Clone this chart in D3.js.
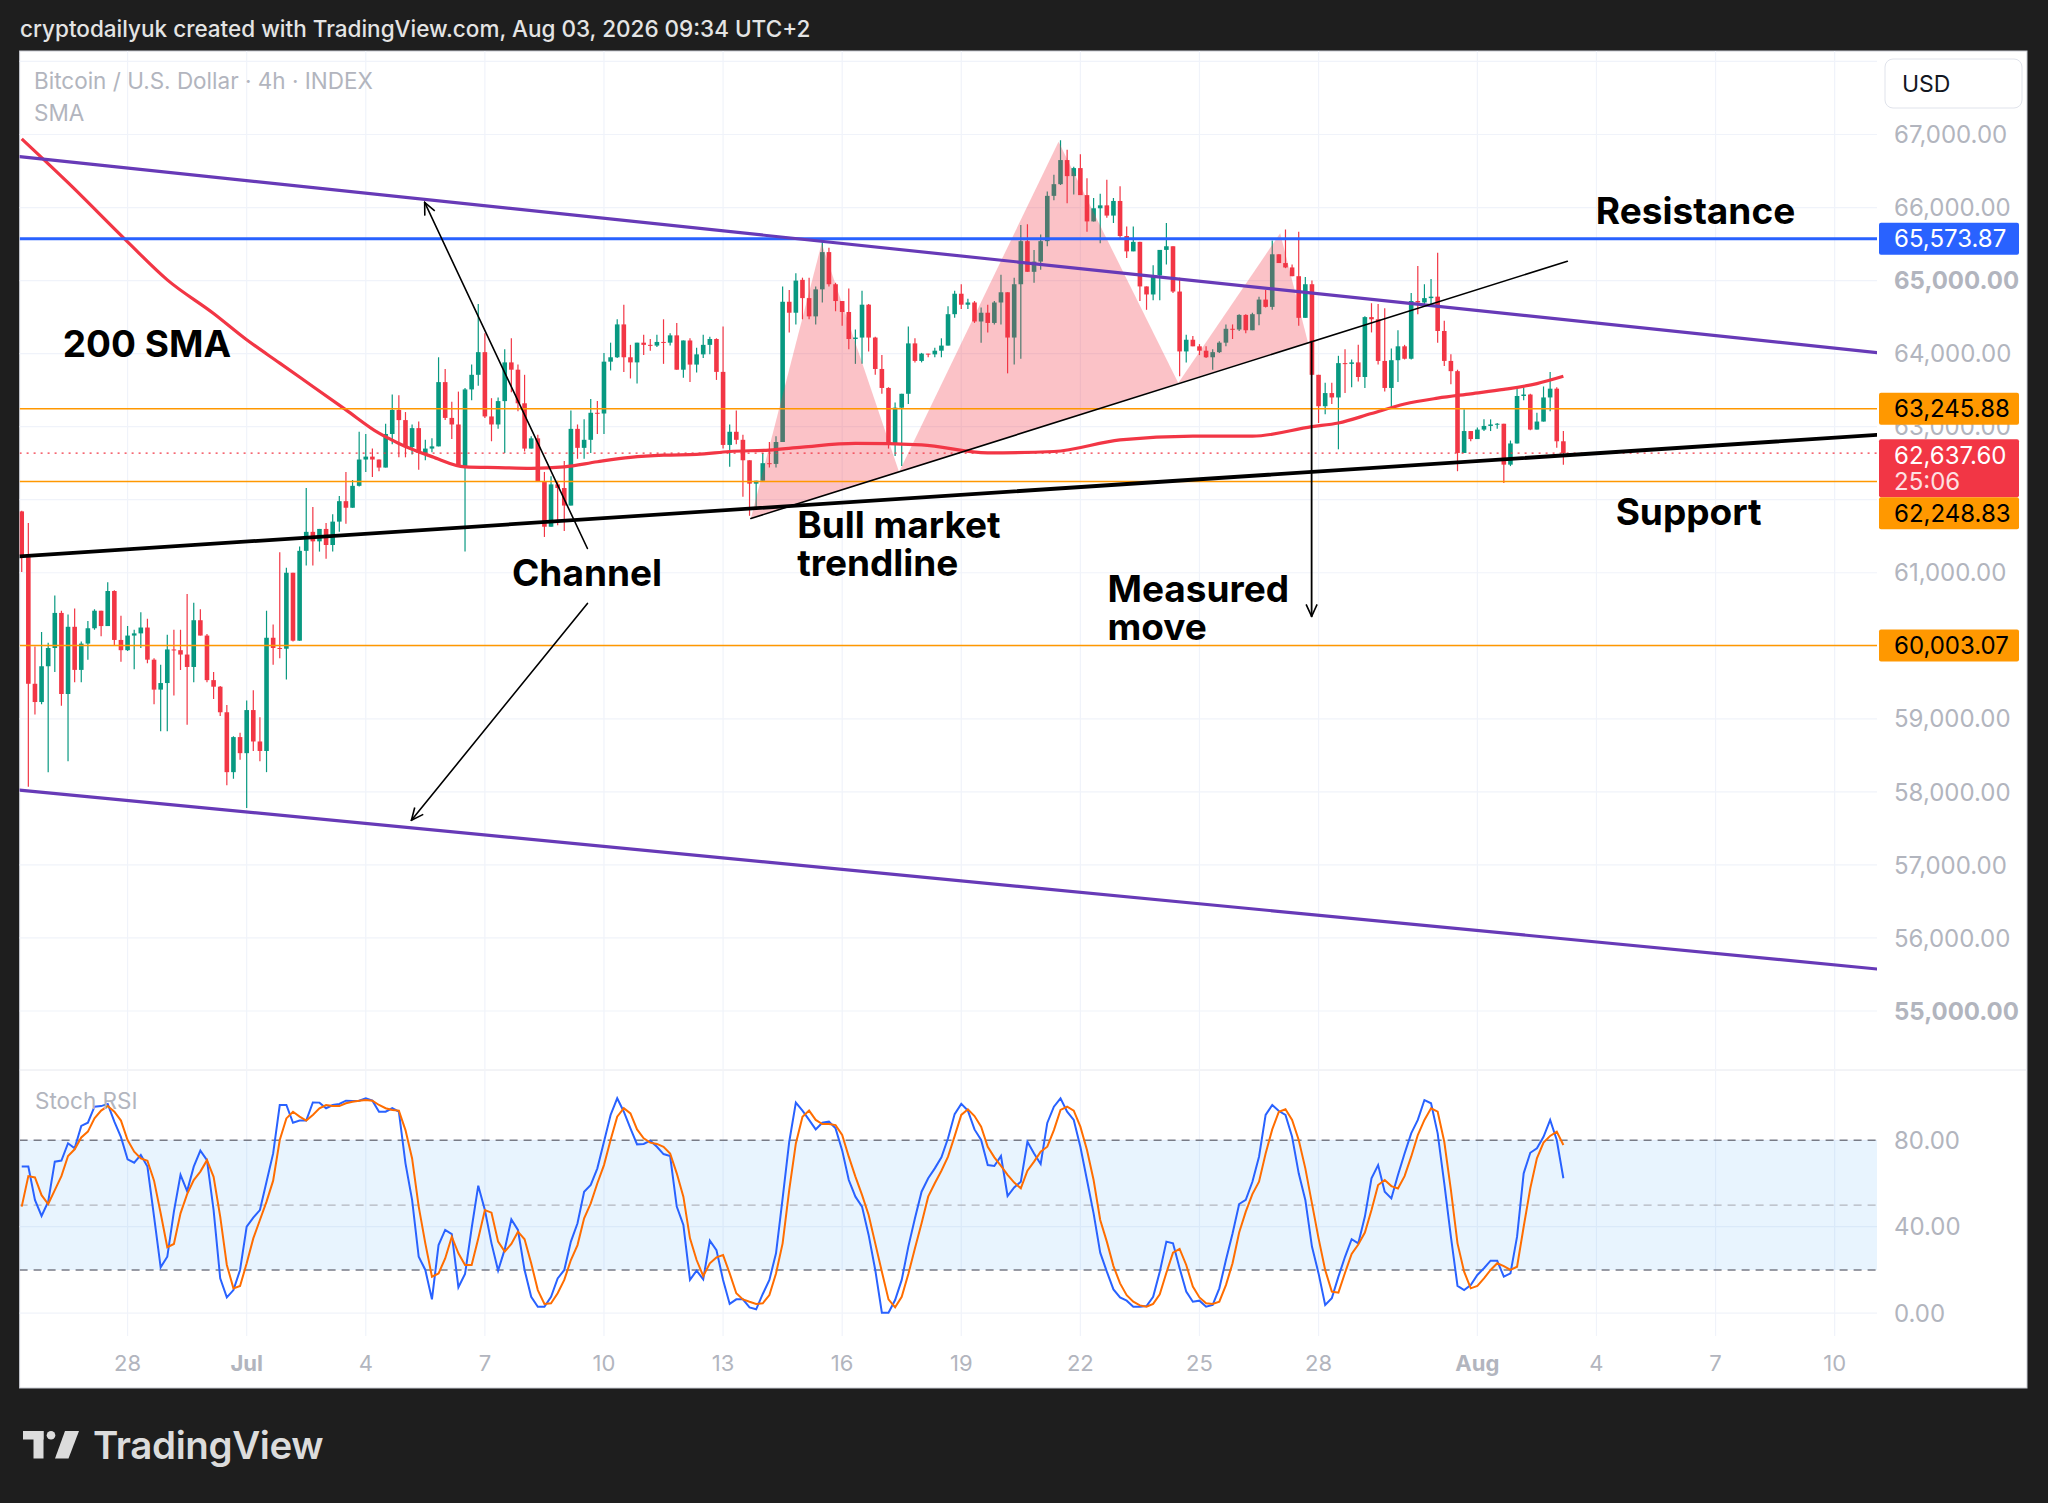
<!DOCTYPE html>
<html lang="en">
<head>
<meta charset="UTF-8">
<title>Bitcoin / U.S. Dollar 4h</title>
<script src="https://cdnjs.cloudflare.com/ajax/libs/d3/7.8.5/d3.min.js"></script>
<style>
body { margin: 0; background: #1e1e1e; }
svg { display: block; }
text { font-family: Inter, "Noto Sans", sans-serif; }
</style>
</head>
<body>
<div id="output"></div>
<script>

// 4h candles, first one opens Jun 25 2026 08:00
var opens = [61840,61240,59480,59230,59720,59970,60450,59340,60260,59670,
60030,60240,60480,60270,60750,60080,59940,60140,60170,60250,
59810,59400,59490,59950,59940,59880,59710,60350,60140,59530,
59440,59090,58270,58750,58530,59120,58690,58560,60110,59970,
59960,61000,60070,61300,61560,61430,61600,61380,61700,61980,
61890,62190,62550,62590,62550,62440,62900,63230,63090,62720,
62980,62640,62700,62730,63610,63120,63030,62450,63510,63710,
64020,63140,63030,63350,63880,63780,63320,62700,62840,62250,
61630,62210,62160,61920,62970,62710,62820,63190,63180,63890,
63950,64400,63950,63880,64150,64120,64110,64160,64150,64250,
63780,64180,63850,63990,64120,64200,63750,62750,62930,62820,
62540,62220,62260,62500,62490,62790,64710,64560,65010,64760,
64510,64880,65390,64950,64720,64570,64200,64220,64670,64220,
63790,63530,62760,63260,63450,64140,63900,64000,63990,64040,
64110,64540,64820,64670,64700,64440,64560,64420,64700,64840,
64220,64950,65540,65120,65260,65540,66160,66320,66650,66430,
66540,66170,65810,65990,66030,65890,66090,65610,65400,65530,
64920,64810,65070,65420,65470,64850,64030,64190,64100,64040,
63950,64020,64150,64340,64330,64530,64320,64540,64740,64640,
65360,65240,65180,65060,64490,64950,63710,63280,63460,63400,
63870,63860,63880,63680,64500,64470,63900,63530,63910,64100,
63930,64720,64700,64760,64780,64310,63900,63760,62640,62940,
62830,62960,63010,63030,63040,62480,62770,63420,63440,62960,
63070,63400,63520,62800];

var highs = [61850,61680,59990,60190,60040,60690,60480,60430,60510,60060,
60340,60500,60480,60870,60760,60410,60270,60220,60460,60370,
59830,59740,60150,60220,60220,60710,60590,60500,60160,59640,
59450,59190,58760,58810,59250,59390,59020,60480,60290,61280,
61070,61000,61360,62160,61900,61600,61680,61800,62050,62380,
62270,62930,62900,62700,62550,63040,63440,63430,63200,63030,
63070,62820,62840,63950,63790,63340,63480,63530,63850,64680,
64280,63390,63400,64060,64210,63850,63710,62870,62890,62380,
62320,62260,62530,63220,63030,63100,63380,63350,64010,64150,
64470,64670,64120,64150,64260,64200,64260,64470,64280,64420,
64180,64210,64080,64260,64230,64210,64370,63030,63220,62890,
62540,62260,62640,62790,62870,64920,64870,65100,65040,65040,
64920,65540,65450,64970,64720,64890,64330,64860,64680,64230,
63980,63540,63330,63450,64370,64210,64010,64000,64080,64210,
64650,64860,64950,64750,64720,64630,64670,64720,65080,64840,
65040,65760,65770,65420,65630,66220,66450,66920,66790,66560,
66730,66400,66130,66190,66380,66130,66290,65740,65740,65530,
64920,65210,65420,65790,65470,65040,64260,64240,64130,64100,
64060,64170,64400,64400,64540,64540,64560,64780,64870,65550,
65360,65700,65220,65670,65050,65000,63710,63600,63600,63970,
64060,63920,64120,64510,64690,64680,64620,64070,64320,64120,
64830,65200,64950,65020,65380,64450,63990,63780,63240,62940,
62990,63100,63100,63050,63040,62810,63520,63530,63450,63190,
63550,63750,63540,62940];

var lows = [61010,58070,59060,59200,58270,59640,59180,58420,59500,59500,
59810,60220,60130,60270,60010,59780,59930,59680,59970,59760,
59200,58830,58830,59320,59670,58920,59500,60140,59500,59270,
59040,58090,58180,58440,57780,58560,58420,58270,59740,59830,
59540,60060,60070,61100,61100,61290,61190,61290,61560,61670,
61890,62180,62380,62310,62390,62440,62760,62580,62580,62620,
62410,62540,62650,62730,63090,62830,62450,61290,63360,63560,
63120,62800,62970,62640,63470,63210,62660,62700,62250,61490,
61630,61650,61570,61920,62560,62560,62640,62900,62900,63770,
63940,63750,63660,63590,63980,64040,64090,63860,64110,63780,
63670,63610,63740,63940,63990,63640,62700,62450,62760,62040,
61780,61880,62260,62440,62440,62790,64290,64400,64470,64470,
64400,64700,64920,64580,64380,64060,63860,63860,64030,63710,
63450,62700,62600,62460,63310,63880,63880,63950,63950,63950,
64110,64490,64610,64610,64420,64150,64290,64400,64400,63730,
63850,63930,65120,64970,65150,65470,66100,66310,66060,66180,
66170,65670,65810,65510,65860,65790,65580,65310,65400,64720,
64600,64730,64730,65220,64830,63690,63880,64100,63980,63940,
63780,64010,64100,64200,64310,64280,64320,64390,64630,64600,
65240,65170,65060,64380,64490,63710,63050,63170,63310,62690,
63460,63540,63620,63530,64290,63850,63480,63270,63610,63920,
63920,64540,64650,64650,64150,63830,63580,62390,62640,62800,
62830,62940,62940,62970,62230,62460,62770,63360,62950,62960,
63070,63210,62710,62480];

var closes = [61240,59480,59230,59720,59970,60450,59340,60260,59670,60030,
60240,60480,60270,60750,60080,59940,60140,60170,60250,59810,
59400,59490,59950,59940,59880,59710,60350,60140,59530,59440,
59090,58270,58750,58530,59120,58690,58560,60110,59970,59960,
61000,60070,61300,61560,61430,61600,61380,61700,61980,61890,
62190,62550,62590,62550,62440,62900,63230,63090,62720,62980,
62640,62700,62730,63610,63120,63030,62450,63510,63710,64020,
63140,63030,63350,63880,63780,63320,62700,62840,62250,61630,
62210,62160,61920,62970,62710,62820,63190,63180,63890,63950,
64400,63950,63880,64150,64120,64110,64160,64150,64250,63780,
64180,63850,63990,64120,64200,63750,62750,62930,62820,62540,
62220,62260,62500,62490,62790,64710,64560,65000,64760,64510,
64880,65390,64950,64720,64570,64200,64220,64670,64220,63790,
63530,62760,63260,63450,64140,63900,64000,63990,64040,64110,
64540,64820,64670,64700,64440,64560,64420,64700,64840,64220,
64950,65540,65120,65260,65540,66160,66320,66650,66430,66540,
66170,65810,65990,66030,65890,66090,65610,65400,65530,64920,
64810,65070,65420,65470,64850,64030,64190,64100,64040,63950,
64020,64150,64340,64330,64530,64320,64540,64740,64640,65360,
65240,65180,65060,64490,64950,63710,63280,63460,63400,63870,
63860,63880,63680,64500,64470,63900,63530,63910,64100,63930,
64720,64700,64760,64780,64310,63900,63760,62640,62940,62830,
62960,63010,63030,63040,62480,62770,63420,63440,62960,63070,
63400,63520,62800,62638];

// 200 SMA, read at these candle indexes
var smaIdx = [0,7,16,22,29,34,39,44,49,54,57,59,62,67,72,77,82,87,92,97,102,107,113,118,126,136,146,156,166,177,186,195,199,204,209,214,219,224,229,233];
var smaVal = [66940,66340,65530,65010,64550,64190,63870,63550,63230,62910,62770,62690,62590,62450,62440,62430,62450,62520,62580,62610,62620,62660,62680,62720,62770,62750,62640,62660,62820,62870,62870,63000,63050,63180,63310,63390,63450,63510,63590,63690];

// Stoch RSI K (blue) and D (orange), one value per candle
var stochK = [67.8,67.8,52.4,45.0,51.6,70.1,70.6,78.6,76.3,86.6,88.1,95.5,95.8,96.8,88.6,81.4,71.2,69.6,73.2,67.8,
44.7,21.2,26.1,47.0,64.0,56.5,67.8,75.2,70.8,47.7,16.1,7.3,10.7,20.0,40.0,44.2,47.7,60.8,73.9,96.3,
96.3,88.1,89.1,89.1,97.5,97.4,94.8,96.3,96.8,98.3,98.2,98.3,99.4,98.3,93.2,93.2,94.8,93.2,69.3,52.4,
26.1,20.0,6.4,31.5,38.5,36.6,12.0,18.1,39.3,59.0,47.7,32.3,19.7,29.5,43.4,38.5,20.0,7.6,3.0,3.0,
7.6,16.1,20.0,33.1,41.6,56.2,59.3,67.0,79.3,91.7,99.4,93.2,85.5,78.1,78.3,79.8,77.0,73.6,72.7,49.3,
40.8,15.4,19.7,15.7,33.6,29.2,15.4,4.3,6.4,6.4,2.7,1.8,8.9,15.4,27.7,53.1,79.3,97.4,93.7,89.4,
85.0,88.1,88.6,85.5,75.3,61.6,53.9,49.3,36.2,20.0,0.2,0.2,6.1,15.4,30.8,43.9,56.2,62.4,67.0,72.1,
80.9,92.1,96.8,93.7,85.0,80.1,68.5,68.1,72.7,54.2,58.2,60.8,79.3,73.9,69.0,88.0,95.5,99.4,93.2,89.4,
77.0,61.6,46.2,28.0,19.2,11.0,7.3,5.8,3.0,3.0,3.3,7.6,19.2,33.1,32.3,20.8,10.0,5.3,5.8,3.0,
3.8,11.5,24.6,36.9,50.5,52.4,60.8,72.4,91.7,96.3,93.5,91.7,81.6,64.7,52.4,30.8,18.4,3.8,6.9,16.9,
26.1,34.2,32.3,44.7,62.4,68.5,56.2,53.1,63.9,73.9,83.2,89.4,98.6,97.1,83.2,60.1,35.4,12.6,10.7,13.0,
17.7,20.8,24.3,24.3,16.9,18.4,35.4,64.7,74.2,76.3,81.6,89.4,80.1,62.4];

var stochD = [49.3,63.4,62.8,54.6,50.5,56.9,63.4,72.7,75.8,81.3,84.0,90.1,93.7,95.8,93.2,89.1,80.1,74.7,71.6,70.5,
61.3,46.2,30.5,32.0,46.2,55.1,61.6,65.5,70.8,63.1,44.7,22.3,11.5,12.6,23.1,34.6,43.1,51.6,61.3,80.1,
90.1,93.2,90.9,89.1,91.7,94.8,96.3,95.8,95.8,97.1,97.8,98.3,98.6,98.3,96.3,94.8,94.0,93.7,84.7,71.6,
49.3,32.3,16.9,18.4,25.3,35.4,27.7,22.3,22.3,34.6,47.7,46.5,33.1,28.5,32.0,37.7,34.2,23.1,10.7,4.3,
4.6,9.2,15.4,24.6,31.5,43.9,50.8,60.1,68.5,80.1,90.9,94.8,92.4,85.0,80.9,78.9,78.3,77.0,73.9,64.7,
53.9,34.6,24.6,17.2,23.1,25.8,26.9,18.4,9.2,6.4,5.3,4.3,4.6,8.4,18.4,32.3,57.0,78.5,90.9,93.7,
89.4,87.5,87.5,87.0,82.4,72.4,63.2,54.7,45.4,32.3,19.2,6.4,2.7,7.6,18.1,30.0,41.6,53.9,60.1,65.9,
72.4,81.9,91.7,94.3,91.2,86.3,77.0,72.1,68.1,64.0,60.4,57.8,65.9,70.1,74.7,77.0,84.7,94.0,95.5,93.7,
86.3,75.5,61.6,43.1,33.1,21.8,13.8,8.3,5.3,3.6,3.0,4.3,8.7,18.7,28.0,29.7,22.3,12.3,7.3,4.6,
4.3,5.3,13.0,23.1,37.3,47.0,55.1,60.8,73.9,85.0,93.2,94.3,89.4,80.1,67.0,50.8,34.6,20.0,10.0,9.5,
18.7,27.4,31.8,37.3,47.7,59.3,61.6,58.8,57.7,63.4,72.4,82.4,89.4,94.8,93.2,79.3,57.0,32.3,19.2,11.5,
12.6,16.1,20.0,23.1,21.8,20.0,21.5,40.0,57.8,71.6,78.9,82.0,84.0,77.8];

// axis labels (62,000 sits fully behind the price tags, so it is not listed)
var tickDates = ["2026-06-28","2026-07-01","2026-07-04","2026-07-07","2026-07-10","2026-07-13","2026-07-16","2026-07-19","2026-07-22","2026-07-25","2026-07-28","2026-08-01","2026-08-04","2026-08-07","2026-08-10"];
var tickLabels = ["28","Jul","4","7","10","13","16","19","22","25","28","Aug","4","7","10"];
var priceGrid = [55000,56000,57000,58000,59000,60000,61000,62000,63000,64000,65000,66000,67000,68000];
var priceLabels = [55000,56000,57000,58000,59000,60000,61000,63000,64000,65000,66000,67000];
var stochTicks = [0, 40, 80];

// horizontal levels drawn on the chart
var levelVals = [65573.87, 63245.88, 60003.07, 62248.83];
var levelColors = ["#2962ff", "#ff9800", "#ff9800", "#ff9800"];
var lastPrice = 62637.60;
var countdown = "25:06";

// drawings: [candle index, price]
var channelTop = [[-0.32, 66696], [280.4, 64014]];
var channelBottom = [[-0.32, 58024], [280.4, 55575]];
var supportLine = [[-0.32, 61224], [280.4, 62887]];
var bullTrend = [[110.2, 61743], [233.6, 65265]];
var arrowUp = [[85.5, 61332], [60.9, 66070]];
var arrowDown = [[85.5, 60580], [58.9, 57612]];
var measuredMove = [[194.95, 64165], [194.95, 60402]];
var hsPoints = [[110.2, 61743], [120.9, 65510], [132.6, 62379], [156.7, 66901], [174.8, 63598], [190.2, 65647], [194.4, 64154]];

// notes, one entry per block; second line goes below the first
var noteText = [["200 SMA"], ["Channel"], ["Bull market", "trendline"], ["Measured", "move"], ["Resistance"], ["Support"]];
var noteIdx = [6.2, 74.1, 117.2, 164.1, 237.9, 240.9];
var notePrice = [63954, 60825, 61469, 60593, 65781, 61660];

var W = 2048, H = 1503;
var frame = {left: 19.6, right: 2027, top: 51, bottom: 1388};
var plotRight = 1877;
var priceTop = 51, priceBottom = 1069;
var stochTop = 1071, stochBottom = 1336;

var t0 = Date.UTC(2026, 5, 25, 8);
var h4 = 4 * 3600 * 1000;
function candleTime(i) { return new Date(t0 + i * h4); }

var x = d3.scaleUtc()
    .domain([candleTime(-0.32), candleTime(280.4)])
    .range([frame.left, plotRight]);
var y = d3.scaleLinear().domain([55000, 67000]).range([1011, 134.5]);
var ys = d3.scaleLinear().domain([0, 100]).range([1313.2, 1097]);

function px(p) { return x(candleTime(p[0])); }
function py(p) { return y(p[1]); }

var candles = d3.range(opens.length).map(function (i) {
    return {i: i, o: opens[i], h: highs[i], l: lows[i], c: closes[i]};
});

var svg = d3.select("#output").append("svg")
    .attr("width", W)
    .attr("height", H);

var defs = svg.append("defs");
defs.append("clipPath").attr("id", "clipPrice")
    .append("rect").attr("x", frame.left).attr("y", priceTop)
    .attr("width", plotRight - frame.left).attr("height", priceBottom - priceTop);
defs.append("clipPath").attr("id", "clipStoch")
    .append("rect").attr("x", frame.left).attr("y", stochTop)
    .attr("width", plotRight - frame.left).attr("height", stochBottom - stochTop);
defs.append("marker")
    .attr("id", "arrow")
    .attr("viewBox", "0 0 14 14")
    .attr("refX", 13).attr("refY", 7)
    .attr("markerWidth", 14).attr("markerHeight", 14)
    .attr("markerUnits", "userSpaceOnUse")
    .attr("orient", "auto")
    .append("path")
    .attr("d", "M1,1.5 L13,7 L1,12.5")
    .attr("fill", "none")
    .attr("stroke", "#000")
    .attr("stroke-width", 1.6);

svg.append("rect").attr("width", W).attr("height", H).attr("fill", "#1e1e1e");

// header
svg.append("text")
    .attr("x", 20).attr("y", 37)
    .attr("fill", "#e4e4e4")
    .style("font-size", "22.5px")
    .style("font-weight", 500)
    .text("cryptodailyuk created with TradingView.com, Aug 03, 2026 09:34 UTC+2");

svg.append("rect")
    .attr("x", frame.left).attr("y", frame.top)
    .attr("width", frame.right - frame.left).attr("height", frame.bottom - frame.top)
    .attr("fill", "#fff")
    .attr("stroke", "#c9ccd3").attr("stroke-width", 1);

// grid
var grid = svg.append("g").attr("stroke", "#f0f3fa").attr("stroke-width", 1.2);
var tickTimes = tickDates.map(function (d) { return new Date(d + "T00:00:00Z"); });
tickTimes.forEach(function (t) {
    grid.append("line").attr("x1", x(t)).attr("x2", x(t)).attr("y1", priceTop).attr("y2", priceBottom);
    grid.append("line").attr("x1", x(t)).attr("x2", x(t)).attr("y1", stochTop).attr("y2", stochBottom);
});
priceGrid.forEach(function (p) {
    grid.append("line").attr("x1", frame.left).attr("x2", plotRight).attr("y1", y(p)).attr("y2", y(p));
});
stochTicks.forEach(function (v) {
    grid.append("line").attr("x1", frame.left).attr("x2", plotRight).attr("y1", ys(v)).attr("y2", ys(v));
});
svg.append("line")
    .attr("x1", frame.left).attr("x2", frame.right)
    .attr("y1", 1070).attr("y2", 1070)
    .attr("stroke", "#e6e8ee").attr("stroke-width", 1);

// price pane
var pane = svg.append("g").attr("clip-path", "url(#clipPrice)");
var bw = 4.6;

pane.selectAll(".wick")
    .data(candles)
    .enter()
    .append("line")
    .attr("x1", function (d) { return x(candleTime(d.i)); })
    .attr("x2", function (d) { return x(candleTime(d.i)); })
    .attr("y1", function (d) { return y(d.h); })
    .attr("y2", function (d) { return y(d.l); })
    .attr("stroke", function (d) { return d.c >= d.o ? "#089981" : "#f23645"; })
    .attr("stroke-width", 1.2);

pane.selectAll(".body")
    .data(candles)
    .enter()
    .append("rect")
    .attr("x", function (d) { return x(candleTime(d.i)) - bw / 2; })
    .attr("y", function (d) { return y(Math.max(d.o, d.c)); })
    .attr("width", bw)
    .attr("height", function (d) { return Math.max(1, Math.abs(y(d.o) - y(d.c))); })
    .attr("fill", function (d) { return d.c >= d.o ? "#089981" : "#f23645"; });

// head and shoulders shading
[[0, 1, 2], [2, 3, 4], [4, 5, 6]].forEach(function (tri) {
    pane.append("path")
        .attr("d", "M" + tri.map(function (k) { return px(hsPoints[k]) + "," + py(hsPoints[k]); }).join("L") + "Z")
        .attr("fill", "rgba(242,54,69,0.3)");
});

// 200 SMA
var smaLine = d3.line()
    .x(function (d, k) { return x(candleTime(smaIdx[k])); })
    .y(function (d) { return y(d); })
    .curve(d3.curveMonotoneX);
pane.append("path")
    .attr("d", smaLine(smaVal))
    .attr("fill", "none")
    .attr("stroke", "#f23645")
    .attr("stroke-width", 3.2);

// horizontal levels
levelVals.forEach(function (v, k) {
    pane.append("line")
        .attr("x1", frame.left).attr("x2", plotRight)
        .attr("y1", y(v)).attr("y2", y(v))
        .attr("stroke", levelColors[k])
        .attr("stroke-width", k === 0 ? 3 : 1.6);
});
pane.append("line")
    .attr("x1", frame.left).attr("x2", plotRight)
    .attr("y1", y(lastPrice)).attr("y2", y(lastPrice))
    .attr("stroke", "#f23645")
    .attr("stroke-width", 1.4)
    .attr("stroke-dasharray", "2,5");

function seg(pts, color, width, arrow) {
    var l = pane.append("line")
        .attr("x1", px(pts[0])).attr("y1", py(pts[0]))
        .attr("x2", px(pts[1])).attr("y2", py(pts[1]))
        .attr("stroke", color)
        .attr("stroke-width", width)
        .attr("stroke-linecap", "round");
    if (arrow) l.attr("marker-end", "url(#arrow)");
}
seg(channelTop, "#673ab7", 3.2);
seg(channelBottom, "#673ab7", 3.2);
seg(supportLine, "#000", 3.8);
seg(bullTrend, "#000", 1.6);
seg(arrowUp, "#000", 1.6, true);
seg(arrowDown, "#000", 1.6, true);
seg(measuredMove, "#000", 1.8, true);

// notes
noteText.forEach(function (lines, k) {
    var tx = pane.append("text")
        .attr("x", x(candleTime(noteIdx[k])))
        .attr("y", y(notePrice[k]))
        .attr("fill", "#000")
        .style("font-size", "37px")
        .style("font-weight", 700);
    lines.forEach(function (s, j) {
        tx.append("tspan")
            .attr("x", x(candleTime(noteIdx[k])))
            .attr("dy", j === 0 ? 0 : 37.5)
            .text(s);
    });
});

pane.append("text")
    .attr("x", 34).attr("y", 89)
    .attr("fill", "#b2b5be")
    .style("font-size", "22.5px")
    .text("Bitcoin / U.S. Dollar \u00b7 4h \u00b7 INDEX");
pane.append("text")
    .attr("x", 34).attr("y", 121)
    .attr("fill", "#b2b5be")
    .style("font-size", "22.5px")
    .text("SMA");

// stoch rsi pane
var sp = svg.append("g").attr("clip-path", "url(#clipStoch)");
sp.append("rect")
    .attr("x", frame.left).attr("width", plotRight - frame.left)
    .attr("y", ys(80)).attr("height", ys(20) - ys(80))
    .attr("fill", "rgba(33,150,243,0.1)");
[80, 50, 20].forEach(function (v) {
    sp.append("line")
        .attr("x1", frame.left).attr("x2", plotRight)
        .attr("y1", ys(v)).attr("y2", ys(v))
        .attr("stroke", v === 50 ? "#b2b5be" : "#787b86")
        .attr("stroke-width", 1.4)
        .attr("stroke-dasharray", "8,6");
});
var kLine = d3.line()
    .x(function (d, i) { return x(candleTime(i)); })
    .y(function (d) { return ys(d); });
sp.append("path").attr("d", kLine(stochK))
    .attr("fill", "none").attr("stroke", "#2962ff").attr("stroke-width", 2);
sp.append("path").attr("d", kLine(stochD))
    .attr("fill", "none").attr("stroke", "#ff6d00").attr("stroke-width", 2);
sp.append("text")
    .attr("x", 35).attr("y", 1109)
    .attr("fill", "#b2b5be")
    .style("font-size", "22.5px")
    .text("Stoch RSI");

// price axis
var fmt = d3.format(",.2f");
var axis = svg.append("g");
priceLabels.forEach(function (p) {
    axis.append("text")
        .attr("x", 1894).attr("y", y(p))
        .attr("dy", "0.36em")
        .attr("fill", "#b2b5be")
        .style("font-size", "24px")
        .style("font-weight", (p === 65000 || p === 55000) ? 700 : 400)
        .text(fmt(p));
});
stochTicks.forEach(function (v) {
    axis.append("text")
        .attr("x", 1894).attr("y", ys(v))
        .attr("dy", "0.36em")
        .attr("fill", "#b2b5be")
        .style("font-size", "24px")
        .text(fmt(v));
});

// price tags, pushed down where they would overlap
var tags = levelVals.map(function (v, k) {
    return {v: v, fill: levelColors[k], color: levelColors[k] === "#2962ff" ? "#fff" : "#000", h: 32};
});
tags.push({v: lastPrice, fill: "#f23645", color: "#fff", h: 58, sub: countdown});
tags.forEach(function (d) { d.top = d.sub ? y(d.v) - 14 : y(d.v) - d.h / 2; });
tags.sort(function (a, b) { return a.top - b.top; });
for (var k = 1; k < tags.length; k++) {
    var prevBottom = tags[k - 1].top + tags[k - 1].h;
    if (tags[k].top < prevBottom) tags[k].top = prevBottom;
}
tags.forEach(function (d) {
    axis.append("rect")
        .attr("x", 1879).attr("y", d.top)
        .attr("width", 140).attr("height", d.h)
        .attr("rx", 2)
        .attr("fill", d.fill);
    axis.append("text")
        .attr("x", 1894).attr("y", d.top + 16)
        .attr("dy", "0.36em")
        .attr("fill", d.color)
        .style("font-size", "24px")
        .text(fmt(d.v));
    if (d.sub) {
        axis.append("text")
            .attr("x", 1894).attr("y", d.top + 42)
            .attr("dy", "0.36em")
            .attr("fill", "#fde0e2")
            .style("font-size", "24px")
            .text(d.sub);
    }
});

axis.append("rect")
    .attr("x", 1885).attr("y", 59)
    .attr("width", 137).attr("height", 49)
    .attr("rx", 8)
    .attr("fill", "#fff")
    .attr("stroke", "#e0e3eb");
axis.append("text")
    .attr("x", 1902).attr("y", 84)
    .attr("dy", "0.36em")
    .attr("fill", "#131722")
    .style("font-size", "23px")
    .text("USD");

// time axis
tickTimes.forEach(function (t, k) {
    svg.append("text")
        .attr("x", x(t)).attr("y", 1363)
        .attr("dy", "0.36em")
        .attr("text-anchor", "middle")
        .attr("fill", "#b2b5be")
        .style("font-size", "22px")
        .style("font-weight", (tickLabels[k] === "Jul" || tickLabels[k] === "Aug") ? 700 : 400)
        .text(tickLabels[k]);
});

// logo
var logo = svg.append("g").attr("fill", "#dcdcdc");
logo.append("rect").attr("x", 23).attr("y", 1431).attr("width", 20.5).attr("height", 8.5);
logo.append("rect").attr("x", 33.5).attr("y", 1431).attr("width", 10).attr("height", 27.5);
logo.append("circle").attr("cx", 51).attr("cy", 1435.3).attr("r", 4.3);
logo.append("path").attr("d", "M65,1431 L79,1431 L68.5,1458.5 L55,1458.5 Z");
logo.append("text")
    .attr("x", 93).attr("y", 1458.5)
    .style("font-size", "38.5px")
    .style("font-weight", 600)
    .style("letter-spacing", "-0.4px")
    .text("TradingView");

</script>
</body>
</html>
